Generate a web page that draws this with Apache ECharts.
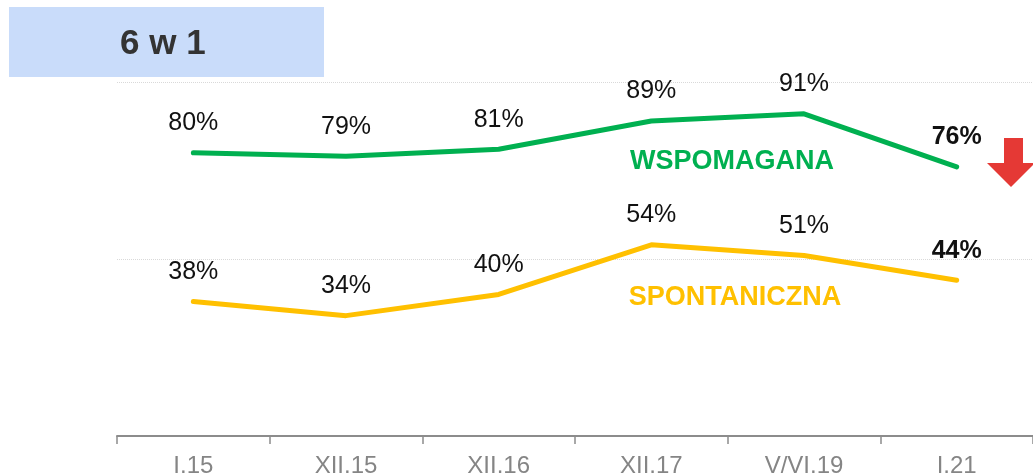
<!DOCTYPE html>
<html>
<head>
<meta charset="utf-8">
<script src="https://cdn.jsdelivr.net/npm/echarts@6/dist/echarts.min.js"></script>
<style>
  html, body { margin: 0; padding: 0; background: #fff; }
  #chart { width: 1033px; height: 474px; }
</style>
</head>
<body>
<div id="chart"></div>
<script>
// dane
var categories = ['I.15', 'XII.15', 'XII.16', 'XII.17', 'V/VI.19', 'I.21'];
var wspomagana = [80, 79, 81, 89, 91, 76];
var spontaniczna = [38, 34, 40, 54, 51, 44];

var chart = echarts.init(document.getElementById('chart'));

// ostatnia etykieta pogrubiona
function labelData(values) {
    return values.map(function (v, i) {
        if (i === values.length - 1) {
            return { value: v, label: { fontWeight: 'bold' } };
        }
        return v;
    });
}

var pointLabel = {
    show: true,
    position: 'top',
    distance: 16,
    color: '#111',
    fontSize: 25,
    fontFamily: '"Liberation Sans", Arial, sans-serif',
    formatter: '{c}%'
};

var option = {
    animation: false,
    grid: {
        left: 117,
        right: 0,
        top: 82,
        bottom: 38,
        containLabel: false,
        outerBoundsMode: 'none'
    },
    xAxis: {
        type: 'category',
        data: categories,
        boundaryGap: true,
        axisLine: { lineStyle: { color: '#8c8c8c', width: 2 } },
        axisTick: { show: true, length: 8, lineStyle: { color: '#8c8c8c', width: 1.5 } },
        axisLabel: {
            color: '#858585',
            fontSize: 24,
            fontFamily: '"Liberation Sans", Arial, sans-serif',
            margin: 18
        }
    },
    yAxis: {
        type: 'value',
        min: 0,
        max: 100,
        interval: 50,
        axisLine: { show: false },
        axisTick: { show: false },
        axisLabel: { show: false },
        splitLine: { lineStyle: { color: '#d9d9d9', type: 'dotted', width: 1 } }
    },
    series: [{
        name: 'WSPOMAGANA',
        type: 'line',
        data: labelData(wspomagana),
        showSymbol: true,
        symbol: 'circle',
        symbolSize: 2,
        itemStyle: { color: 'rgba(0,0,0,0)', borderWidth: 0 },
        lineStyle: { color: '#00b050', width: 5, cap: 'round' },
        label: pointLabel
    }, {
        name: 'SPONTANICZNA',
        type: 'line',
        data: labelData(spontaniczna),
        showSymbol: true,
        symbol: 'circle',
        symbolSize: 2,
        itemStyle: { color: 'rgba(0,0,0,0)', borderWidth: 0 },
        lineStyle: { color: '#ffc000', width: 5, cap: 'round' },
        label: pointLabel
    }],
    graphic: [{
        type: 'rect',
        shape: { x: 9, y: 7, width: 315, height: 70 },
        style: { fill: '#c9dcfa' }
    }, {
        type: 'text',
        x: 120,
        y: 44,
        style: {
            text: '6 w 1',
            fill: '#333',
            font: 'bold 35px "Liberation Sans", Arial, sans-serif',
            textVerticalAlign: 'middle'
        }
    }, {
        type: 'text',
        x: 732,
        y: 162,
        style: {
            text: 'WSPOMAGANA',
            fill: '#00b050',
            font: 'bold 27px "Liberation Sans", Arial, sans-serif',
            textAlign: 'center',
            textVerticalAlign: 'middle'
        }
    }, {
        type: 'text',
        x: 735,
        y: 298,
        style: {
            text: 'SPONTANICZNA',
            fill: '#ffc000',
            font: 'bold 27px "Liberation Sans", Arial, sans-serif',
            textAlign: 'center',
            textVerticalAlign: 'middle'
        }
    }, {
        type: 'polygon',
        shape: {
            points: [[1004, 138], [1023, 138], [1023, 163], [1035, 163], [1011, 187], [987, 163], [1004, 163]]
        },
        style: { fill: '#e53935' }
    }]
};

chart.setOption(option);
</script>
</body>
</html>
